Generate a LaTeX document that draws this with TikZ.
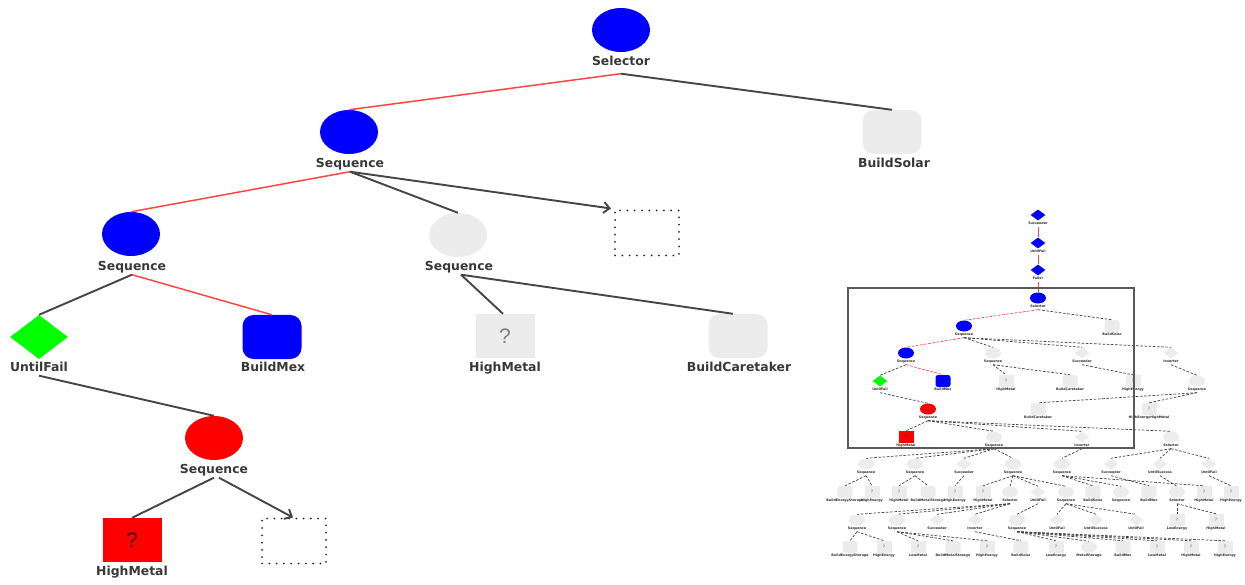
\documentclass[tikz,border=0pt]{standalone}
\usepackage{fontspec}
\setmainfont{DejaVu Sans}
\newfontfamily\qfont{Liberation Sans}
\usetikzlibrary{shapes.geometric,arrows.meta}
\definecolor{leafgray}{HTML}{ECECEC}
\definecolor{txtgray}{HTML}{383838}
\definecolor{hotred}{HTML}{FF4545}
\definecolor{edgegray}{HTML}{454545}
\definecolor{pureblue}{HTML}{0000FF}
\definecolor{puregreen}{HTML}{00FF00}
\definecolor{purered}{HTML}{FF0000}
\begin{document}
\begin{tikzpicture}[x=1pt,y=-1pt,
  ell/.style={ellipse, fill=#1, minimum width=58pt, minimum height=44pt, inner sep=0pt},
  dia/.style={diamond, fill=#1, minimum width=58pt, minimum height=44pt, inner sep=0pt},
  rsq/.style={rectangle, rounded corners=11pt, fill=#1, minimum width=59pt, minimum height=44pt, inner sep=0pt},
  sqr/.style={rectangle, fill=#1, minimum width=59pt, minimum height=44pt, inner sep=0pt, font=\qfont\fontsize{21}{21}\selectfont},
  hole/.style={rectangle, draw=black!85, line width=2pt, line cap=round, dash pattern=on 0pt off 7.3pt, minimum width=64pt, minimum height=45pt},
  lbl/.style={font=\bfseries\fontsize{12.4}{14}\selectfont, text=txtgray, inner sep=0pt, text height=10pt, text depth=3pt},
  redge/.style={draw=hotred, line width=1.5pt},
  kedge/.style={draw=edgegray, line width=1.9pt},
  aedge/.style={kedge, -{Straight Barb[length=6pt,width=11pt,line width=1.9pt]}},
  mc/.style={ellipse, fill=#1, minimum width=16pt, minimum height=11pt, inner sep=0pt},
  md/.style={diamond, fill=#1, minimum width=15pt, minimum height=11pt, inner sep=0pt},
  ms/.style={rectangle, fill=#1, minimum width=15pt, minimum height=12pt, inner sep=0pt, font=\fontsize{4.5}{4.5}\selectfont, text=black!60},
  mr/.style={rectangle, rounded corners=2.5pt, fill=#1, minimum width=15pt, minimum height=12pt, inner sep=0pt},
  mlab/.style={font=\bfseries\fontsize{3.3}{3.3}\selectfont, text=black!85, inner sep=0.4pt, label distance=0.6pt},
  medge/.style={draw=black!75, line width=0.7pt, dash pattern=on 2.6pt off 1.6pt},
  mredge/.style={draw=hotred, line width=0.7pt, dash pattern=on 2.6pt off 1.6pt},
  mrsolid/.style={draw=hotred, line width=0.8pt}
]
\useasboundingbox (0,0) rectangle (1245,585);

% ---------- main tree ----------
\node[ell=pureblue] (sel) at (621,30) {};
\node[lbl] (selL) at (621,62) {Selector};

\node[ell=pureblue] (seqA) at (349,132) {};
\node[lbl] (seqAL) at (350,164) {Sequence};
\node[rsq=leafgray] (solar) at (892,132) {};
\node[lbl] (solarL) at (894,164) {BuildSolar};

\node[ell=pureblue] (seqB) at (131,234) {};
\node[lbl] (seqBL) at (132,267) {Sequence};
\node[ell=leafgray] (seqC) at (458,235) {};
\node[lbl] (seqCL) at (459,267) {Sequence};
\node[hole] (holeA) at (647,233) {};

\node[dia=puregreen] (until) at (39,337) {};
\node[lbl] (untilL) at (39,368) {UntilFail};
\node[rsq=pureblue] (mex) at (272,337) {};
\node[lbl] (mexL) at (273,368) {BuildMex};
\node[sqr=leafgray, text=black!50] (hmA) at (505,336) {?};
\node[lbl] (hmAL) at (505,368) {HighMetal};
\node[rsq=leafgray] (care) at (738,336) {};
\node[lbl] (careL) at (739,368) {BuildCaretaker};

\node[ell=purered] (seqD) at (214,438) {};
\node[lbl] (seqDL) at (214,470) {Sequence};
\node[sqr=purered, text=black!70!purered] (hmB) at (132,540) {?};
\node[lbl] (hmBL) at (132,572) {HighMetal};
\node[hole] (holeB) at (294,541) {};

% main connectors
\draw[redge] ([yshift=-5pt]selL.south) -- (seqA.north);
\draw[kedge] ([yshift=-5pt]selL.south) -- (solar.north);
\draw[redge] ([yshift=-1pt]seqAL.south) -- (seqB.north);
\draw[kedge] ([yshift=-1pt]seqAL.south) -- (seqC.north);
\draw[aedge] ([yshift=-1pt]seqAL.south) -- ([xshift=-3pt,yshift=1pt]holeA.north west);
\draw[kedge] ([yshift=-1pt]seqBL.south) -- (until.north);
\draw[redge] ([yshift=-1pt]seqBL.south) -- (mex.north);
\draw[kedge] ([xshift=2pt,yshift=-1pt]seqCL.south) -- ([xshift=-2pt]hmA.north);
\draw[kedge] ([xshift=2pt,yshift=-1pt]seqCL.south) -- ([xshift=-5pt]care.north);
\draw[kedge] ([yshift=-1pt]untilL.south) -- (seqD.north);
\draw[kedge] ([yshift=-1pt]seqDL.south) -- (hmB.north);
\draw[aedge] ([xshift=5pt,yshift=-1pt]seqDL.south) -- ([xshift=-1pt]holeB.north);

% ---------- overview map ----------
\node[md=pureblue, label={[mlab]below:Succeeder}] (r0a) at (1038,215) {};
\node[md=pureblue, label={[mlab]below:UntilFail}] (r0b) at (1038,243) {};
\node[md=pureblue, label={[mlab]below:Failer}] (r0c) at (1038,270) {};
\node[mc=pureblue, label={[mlab]below:Selector}] (ms0) at (1038,298) {};

\node[mc=pureblue, label={[mlab]below:Sequence}] (s1a) at (964,326) {};
\node[mr=leafgray, label={[mlab]below:BuildSolar}] (s1b) at (1112,326) {};

\node[mc=pureblue, label={[mlab]below:Sequence}] (s2a) at (906,353) {};
\node[mc=leafgray, label={[mlab]below:Sequence}] (s2b) at (993,353) {};
\node[md=leafgray, label={[mlab]below:Succeeder}] (s2c) at (1082,353) {};
\node[md=leafgray, label={[mlab]below:Inverter}] (s2d) at (1171,353) {};

\node[md=puregreen, label={[mlab]below:UntilFail}] (s3a) at (880,381) {};
\node[mr=pureblue, label={[mlab]below:BuildMex}] (s3b) at (943,381) {};
\node[ms=leafgray, label={[mlab]below:HighMetal}] (s3c) at (1006,381) {?};
\node[mr=leafgray, label={[mlab]below:BuildCaretaker}] (s3d) at (1070,381) {};
\node[ms=leafgray, label={[mlab]below:HighEnergy}] (s3e) at (1133,381) {?};
\node[mc=leafgray, label={[mlab]below:Sequence}] (s3f) at (1197,381) {};

\node[mc=purered, label={[mlab]below:Sequence}] (s4a) at (928,409) {};
\node[mr=leafgray, label={[mlab]below:BuildCaretaker}] (s4b) at (1038,409) {};
\node[ms=leafgray, label={[mlab]below:HighEnergyHighMetal}] (s4c) at (1149,409) {?};

\node[ms=purered, text=black, label={[mlab]below:HighMetal}] (s5a) at (906,437) {?};
\node[mc=leafgray, label={[mlab]below:Sequence}] (s5b) at (994,437) {};
\node[md=leafgray, label={[mlab]below:Inverter}] (s5c) at (1082,437) {};
\node[mc=leafgray, label={[mlab]below:Selector}] (s5d) at (1171,437) {};

\node[mc=leafgray, label={[mlab]below:Sequence}] (s6a) at (866,464) {};
\node[mc=leafgray, label={[mlab]below:Sequence}] (s6b) at (915,464) {};
\node[md=leafgray, label={[mlab]below:Succeeder}] (s6c) at (964,464) {};
\node[mc=leafgray, label={[mlab]below:Sequence}] (s6d) at (1013,464) {};
\node[mc=leafgray, label={[mlab]below:Sequence}] (s6e) at (1062,464) {};
\node[md=leafgray, label={[mlab]below:Succeeder}] (s6f) at (1111,464) {};
\node[md=leafgray, label={[mlab]below:UntilSuccess}] (s6g) at (1160,464) {};
\node[md=leafgray, label={[mlab]below:UntilFail}] (s6h) at (1209,464) {};

\node[mr=leafgray, label={[mlab]below:BuildEnergyStorage}] (s7a) at (845,492) {};
\node[ms=leafgray, label={[mlab]below:HighEnergy}] (s7b) at (872,492) {?};
\node[ms=leafgray, label={[mlab]below:HighMetal}] (s7c) at (899,492) {?};
\node[mr=leafgray, label={[mlab]below:BuildMetalStorage}] (s7d) at (928,492) {};
\node[ms=leafgray, label={[mlab]below:HighEnergy}] (s7e) at (955,492) {?};
\node[ms=leafgray, label={[mlab]below:HighMetal}] (s7f) at (983,492) {?};
\node[mc=leafgray, label={[mlab]below:Selector}] (s7g) at (1010,492) {};
\node[md=leafgray, label={[mlab]below:UntilFail}] (s7h) at (1038,492) {};
\node[mc=leafgray, label={[mlab]below:Sequence}] (s7i) at (1066,492) {};
\node[mr=leafgray, label={[mlab]below:BuildSolar}] (s7j) at (1093,492) {};
\node[mc=leafgray, label={[mlab]below:Sequence}] (s7k) at (1121,492) {};
\node[mr=leafgray, label={[mlab]below:BuildMex}] (s7l) at (1149,492) {};
\node[mc=leafgray, label={[mlab]below:Selector}] (s7m) at (1177,492) {};
\node[ms=leafgray, label={[mlab]below:HighMetal}] (s7n) at (1204,492) {?};
\node[ms=leafgray, label={[mlab]below:HighEnergy}] (s7o) at (1231,492) {?};

\node[mc=leafgray, label={[mlab]below:Sequence}] (s8a) at (857,520) {};
\node[mc=leafgray, label={[mlab]below:Sequence}] (s8b) at (897,520) {};
\node[md=leafgray, label={[mlab]below:Succeeder}] (s8c) at (937,520) {};
\node[md=leafgray, label={[mlab]below:Inverter}] (s8d) at (975,520) {};
\node[mc=leafgray, label={[mlab]below:Sequence}] (s8e) at (1017,520) {};
\node[md=leafgray, label={[mlab]below:UntilFail}] (s8f) at (1057,520) {};
\node[md=leafgray, label={[mlab]below:UntilSuccess}] (s8g) at (1096,520) {};
\node[md=leafgray, label={[mlab]below:UntilFail}] (s8h) at (1136,520) {};
\node[ms=leafgray, label={[mlab]below:LowEnergy}] (s8i) at (1177,520) {?};
\node[ms=leafgray, label={[mlab]below:HighMetal}] (s8j) at (1216,520) {?};

\node[mr=leafgray, label={[mlab]below:BuildEnergyStorage}] (s9a) at (850,547) {};
\node[ms=leafgray, label={[mlab]below:HighEnergy}] (s9b) at (884,547) {?};
\node[ms=leafgray, label={[mlab]below:LowMetal}] (s9c) at (918,547) {?};
\node[mr=leafgray, label={[mlab]below:BuildMetalStorage}] (s9d) at (953,547) {};
\node[ms=leafgray, label={[mlab]below:HighEnergy}] (s9e) at (987,547) {?};
\node[mr=leafgray, label={[mlab]below:BuildSolar}] (s9f) at (1021,547) {};
\node[ms=leafgray, label={[mlab]below:LowEnergy}] (s9g) at (1056,547) {?};
\node[mc=leafgray, label={[mlab]below:MetalStorage}] (s9h) at (1089,547) {};
\node[mr=leafgray, label={[mlab]below:BuildMex}] (s9i) at (1123,547) {};
\node[ms=leafgray, label={[mlab]below:LowMetal}] (s9j) at (1157,547) {?};
\node[ms=leafgray, label={[mlab]below:HighMetal}] (s9k) at (1191,547) {?};
\node[ms=leafgray, label={[mlab]below:HighEnergy}] (s9l) at (1225,547) {?};

% active path through the overview
\foreach \p/\c in {r0a/r0b, r0b/r0c, r0c/ms0}
  \draw[mrsolid] ([yshift=-6pt]\p.south) -- (\c.north);
\foreach \p/\c in {ms0/s1a, s1a/s2a, s2a/s3b}
  \draw[mredge] ([yshift=-6pt]\p.south) -- (\c.north);
% remaining overview links
\foreach \p/\c in {ms0/s1b, s1a/s2b, s1a/s2c, s1a/s2d, s2a/s3a,
    s2b/s3c, s2b/s3d, s2c/s3e, s2d/s3f, s3a/s4a, s3f/s4b, s3f/s4c,
    s4a/s5a, s4a/s5b, s4a/s5c, s4a/s5d,
    s5b/s6a, s5b/s6b, s5b/s6c, s5b/s6d, s5c/s6e, s5d/s6f, s5d/s6g, s5d/s6h,
    s6a/s7a, s6a/s7b, s6b/s7c, s6b/s7d, s6c/s7e,
    s6d/s7f, s6d/s7g, s6d/s7h, s6d/s7i, s6e/s7j, s6e/s7k, s6e/s7n,
    s6f/s7l, s6g/s7m, s6h/s7o,
    s7g/s8a, s7g/s8b, s7g/s8c, s7g/s8d, s7h/s8e, s7i/s8f, s7i/s8g, s7i/s8h,
    s7m/s8i, s7m/s8j,
    s8a/s9a, s8a/s9b, s8b/s9c, s8b/s9d, s8b/s9e, s8d/s9f,
    s8e/s9g, s8e/s9h, s8e/s9i, s8e/s9j, s8e/s9k, s8e/s9l}
  \draw[medge] ([yshift=-6pt]\p.south) -- (\c.north);

% viewport frame
\node[draw=black!65, line width=2.2pt, minimum width=286pt, minimum height=160pt, inner sep=0pt] (view) at (991,368) {};
\end{tikzpicture}
\end{document}
